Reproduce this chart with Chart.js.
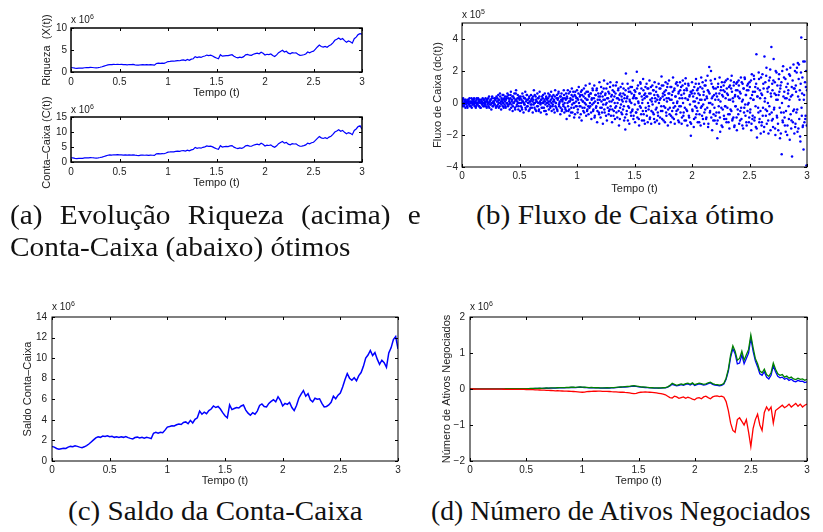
<!DOCTYPE html>
<html><head><meta charset="utf-8">
<script src="https://cdn.jsdelivr.net/npm/chart.js@4.4.1/dist/chart.umd.min.js"></script>
<style>
html,body{margin:0;padding:0;background:#fff}
body{position:relative;width:823px;height:532px;overflow:hidden}
canvas{position:absolute}
.ex{position:absolute;font:10px "Liberation Sans",Arial,sans-serif;color:#222;white-space:nowrap;line-height:10px}
.ex span{font-size:7px;position:relative;top:-4px}
.cap{position:absolute;font-family:"Liberation Serif","Times New Roman",Times,serif;font-size:27px;line-height:27px;color:#111;white-space:nowrap;transform-origin:0 0}
</style></head><body>
<script>
// ---------- DATA ----------
const T_MAX = 3;
// (a) top: Riqueza X(t), x 10^6
const wealth = [
1.01,0.97,0.88,0.83,0.86,0.89,0.88,0.97,1.02,0.99,
1.07,1.02,0.97,0.94,0.99,1.08,1.19,1.33,1.48,1.62,
1.69,1.66,1.74,1.71,1.76,1.70,1.73,1.66,1.69,1.64,
1.70,1.66,1.71,1.63,1.58,1.55,1.64,1.67,1.62,1.66,
1.60,1.66,1.62,1.57,1.94,2.00,1.94,2.02,1.98,2.16,
2.38,2.41,2.46,2.45,2.53,2.59,2.56,2.70,2.74,2.61,
2.84,2.66,2.92,3.02,3.49,3.28,3.42,3.31,3.53,3.64,
3.85,3.74,3.82,3.64,3.38,3.17,3.02,3.92,3.60,3.67,
3.74,3.71,3.85,3.92,3.56,3.35,3.20,3.38,3.28,3.49,
3.89,4.00,3.82,3.78,4.03,4.18,4.28,4.14,4.50,4.25,
3.85,4.03,3.96,4.10,3.74,3.53,3.89,4.39,4.68,4.93,
4.54,4.72,4.28,4.14,4.39,4.32,4.36,4.03,3.78,3.82,
3.92,4.10,4.54,4.36,4.61,4.75,5.18,5.69,6.12,5.80,
5.65,5.83,5.62,5.98,6.19,6.62,7.20,7.42,7.74,7.38,
7.60,7.13,6.77,7.06,6.88,6.55,7.56,7.92,8.50,8.71,
8.60];
// (a) bottom and (c): Conta-Caixa C(t), x 10^6
const cash = [
1.40,1.35,1.22,1.15,1.20,1.24,1.22,1.35,1.42,1.38,
1.48,1.42,1.35,1.30,1.38,1.50,1.65,1.85,2.05,2.25,
2.35,2.30,2.42,2.38,2.45,2.36,2.40,2.30,2.35,2.28,
2.36,2.30,2.38,2.27,2.20,2.15,2.28,2.32,2.25,2.30,
2.22,2.30,2.25,2.18,2.70,2.78,2.70,2.80,2.75,3.00,
3.30,3.35,3.42,3.40,3.52,3.60,3.55,3.75,3.80,3.62,
3.95,3.70,4.05,4.20,4.85,4.55,4.75,4.60,4.90,5.05,
5.35,5.20,5.30,5.05,4.70,4.40,4.20,5.45,5.00,5.10,
5.20,5.15,5.35,5.45,4.95,4.65,4.45,4.70,4.55,4.85,
5.40,5.55,5.30,5.25,5.60,5.80,5.95,5.75,6.25,5.90,
5.35,5.60,5.50,5.70,5.20,4.90,5.40,6.10,6.50,6.85,
6.30,6.55,5.95,5.75,6.10,6.00,6.05,5.60,5.25,5.30,
5.45,5.70,6.30,6.05,6.40,6.60,7.20,7.90,8.50,8.05,
7.85,8.10,7.80,8.30,8.60,9.20,10.00,10.30,10.75,10.25,
10.55,9.90,9.40,9.80,9.55,9.10,10.50,11.00,11.80,12.10,
10.90];
// (b) Fluxo de Caixa dc(t), x 10^5 — samples at t = 0, 0.005, ..., 3
const flow = [
0.1,-0.2,0.3,0.0,-0.1,0.2,-0.3,0.1,0.0,-0.2,0.2,0.1,-0.1,0.3,-0.2,0.0,0.1,-0.3,0.2,-0.1,
0.0,0.3,-0.2,0.1,-0.3,0.2,0.0,-0.1,0.3,0.1,-0.2,0.2,-0.3,0.0,0.1,-0.1,0.3,-0.2,0.2,0.0,
-0.1,0.3,0.1,-0.3,0.2,0.0,-0.2,0.4,0.1,-0.1,0.2,-0.4,0.3,0.0,-0.2,0.1,0.3,-0.1,0.2,-0.3,
0.4,-0.2,0.1,0.5,-0.3,0.2,0.6,0.0,-0.4,0.3,0.1,-0.2,0.5,0.2,-0.1,0.4,-0.3,0.3,0.0,0.6,
-0.2,0.5,0.1,-0.4,0.3,0.7,-0.1,0.2,-0.5,0.4,0.0,0.6,-0.3,0.2,0.8,-0.2,0.1,0.5,-0.4,0.3,
0.2,-0.5,0.4,0.0,-0.3,0.6,0.1,-0.6,0.3,-0.1,0.7,-0.4,0.2,0.5,-0.2,0.0,-0.5,0.4,0.1,-0.3,
0.5,-0.1,0.3,-0.6,0.2,0.8,-0.3,0.0,0.4,-0.5,0.1,0.6,-0.2,0.3,-0.4,0.7,0.0,-0.6,0.2,0.4,
-0.3,0.5,0.1,-0.5,0.6,-0.1,0.3,-0.7,0.2,0.0,0.6,-0.4,0.4,0.1,-0.2,0.7,-0.5,0.3,-0.1,0.5,
0.2,-0.6,0.8,0.0,-0.3,0.5,-0.5,0.3,0.7,-0.2,0.1,-0.7,0.4,0.6,-0.4,0.2,-0.1,0.8,-0.6,0.3,
-0.4,0.6,-1.0,0.3,0.8,-0.5,0.1,-0.8,0.7,0.2,-0.3,0.9,-0.6,0.4,0.0,-0.9,0.5,0.7,-0.2,0.3,
0.8,-0.6,0.2,1.0,-0.9,0.4,-0.2,0.7,-1.1,0.5,0.1,-0.5,0.9,-0.3,0.6,1.1,-0.8,0.2,-0.4,0.7,
-0.7,0.4,1.2,-0.2,0.6,-1.0,0.3,0.9,-0.5,0.0,1.1,-0.8,0.5,-0.3,0.8,-1.2,0.2,0.6,-0.6,1.3,
0.4,-0.9,1.0,-0.3,0.7,-1.3,0.2,1.4,-0.6,0.5,-0.1,0.9,-1.1,1.2,0.3,-0.7,0.6,-0.4,1.3,-0.8,
0.1,-1.2,0.8,1.1,-0.5,0.4,-1.0,0.6,-0.2,1.3,-0.9,0.3,0.9,-1.4,0.5,-0.3,1.0,-0.6,0.2,1.2,
-0.4,0.9,-1.1,0.5,-1.65,1.85,-0.7,0.3,1.2,-0.2,0.7,-1.3,0.1,1.0,-0.8,0.6,-0.5,1.4,-1.0,0.4,
0.8,-1.2,0.3,-0.6,1.95,-0.9,1.1,0.0,-1.4,0.6,1.3,-0.3,0.9,-1.1,0.2,1.5,-0.7,0.5,-1.3,1.0,
-0.5,1.2,0.4,-1.2,0.9,-0.2,1.4,-0.9,0.6,-1.3,0.1,1.1,-0.6,0.8,-1.0,1.3,0.3,-0.4,1.0,-1.1,
0.5,-0.8,1.2,-1.3,0.2,0.9,-0.5,1.65,-1.0,0.4,1.1,-0.2,0.7,-1.2,1.3,-0.6,0.3,1.0,-1.4,0.6,
1.4,-0.7,0.2,-1.2,1.0,0.5,-0.9,1.6,-0.3,0.8,-1.3,0.4,1.2,-0.5,0.0,1.1,-1.1,0.7,-0.2,1.3,
-0.6,1.0,-1.3,0.3,1.4,-0.8,0.6,-1.1,1.2,1.55,-0.4,0.8,-1.4,0.2,1.1,-0.9,0.5,-1.2,-2.05,0.7,
1.3,-0.5,0.4,-1.5,1.0,0.1,-0.9,1.5,-0.3,0.8,-1.2,0.6,1.2,-0.7,0.2,-1.4,1.6,-0.2,0.9,-1.0,
0.5,-1.3,1.1,-0.4,1.4,-0.9,0.3,1.7,-1.5,0.7,2.25,-0.6,0.0,2.0,1.2,-1.7,0.4,-1.1,0.9,-0.3,
1.5,-0.8,0.6,-1.3,-2.2,1.0,0.2,-0.6,1.6,-1.8,0.8,-0.3,1.3,-1.5,0.4,1.1,-1.0,0.7,-0.2,1.4,
-1.2,0.6,1.5,-0.7,0.2,-1.6,1.1,-0.4,0.9,1.7,-1.1,0.3,-0.9,1.3,-1.4,0.5,-0.2,1.2,-1.7,0.8,
0.4,1.4,-1.3,0.7,-0.5,1.6,-1.0,0.1,1.2,-1.6,0.9,-0.3,1.5,-0.8,0.5,-1.4,1.1,-0.1,0.8,-1.2,
1.3,-0.6,0.3,-1.7,1.8,-1.0,0.7,0.2,1.5,-0.9,1.0,-1.5,3.05,-2.15,0.4,-0.3,1.9,-1.2,0.8,-0.5,
1.6,-1.4,0.5,-0.8,1.2,-1.8,2.9,0.3,-0.4,1.7,-1.3,0.9,0.0,-1.9,1.4,-0.7,2.1,0.6,3.5,-1.1,
0.8,-1.5,2.75,-0.3,1.3,-2.0,0.5,1.9,-0.9,0.2,-1.7,1.5,0.7,-2.2,1.1,-0.6,-3.2,2.0,-1.2,0.4,
1.6,-0.9,0.3,-1.8,1.0,2.1,-1.4,0.6,-0.2,1.8,-2.3,2.2,0.4,-1.1,-3.35,1.4,-0.5,0.9,-1.9,2.0,
-1.3,0.7,1.9,-0.4,2.5,-1.6,2.4,0.2,-2.1,1.2,4.1,-0.8,1.6,-1.4,-2.9,0.5,2.6,-1.0,1.0,-3.9,
0.8];
// (b) second set of samples, at t = 0.0025, 0.0075, ..., 2.9975
const flowMid = [
-0.1,0.2,0.0,-0.2,0.1,0.0,0.2,-0.1,0.1,-0.3,0.0,0.2,-0.1,0.1,0.0,-0.2,0.3,0.0,-0.1,0.1,
0.2,-0.1,0.0,0.1,-0.2,0.3,-0.1,0.0,0.2,-0.2,0.1,0.0,-0.3,0.2,0.1,-0.1,0.0,0.2,-0.2,0.1,
0.0,-0.2,0.2,0.1,-0.1,0.3,0.0,-0.3,0.1,0.2,-0.1,0.0,0.4,-0.2,0.1,0.0,-0.1,0.2,0.3,-0.2,
0.1,0.3,-0.1,0.2,0.0,-0.2,0.4,0.1,-0.1,0.2,0.5,0.0,-0.3,0.3,0.1,-0.2,0.2,0.0,0.4,-0.1,
0.3,-0.1,0.2,0.0,0.5,-0.3,0.1,0.4,-0.2,0.0,0.3,0.1,-0.4,0.6,0.2,-0.1,0.3,0.0,-0.2,0.4,
0.0,0.3,-0.2,0.2,-0.4,0.1,0.4,0.0,-0.1,0.3,-0.3,0.1,0.5,-0.2,0.2,0.0,0.3,-0.4,0.1,-0.1,
0.2,-0.3,0.1,0.4,-0.1,0.0,0.5,-0.4,0.2,0.1,-0.2,0.3,0.0,-0.5,0.4,0.1,-0.1,0.2,-0.3,0.0,
0.3,0.0,-0.3,0.2,0.1,-0.5,0.4,0.0,-0.2,0.3,0.1,-0.1,0.5,-0.3,0.2,0.0,0.4,-0.2,0.1,-0.4,
0.1,0.4,-0.2,0.0,0.3,-0.4,0.2,0.6,-0.1,0.0,0.4,-0.3,0.2,-0.5,0.1,0.3,-0.2,0.5,0.0,-0.3,
0.2,-0.5,0.4,0.0,-0.2,0.6,-0.4,0.1,0.3,-0.6,0.5,-0.1,0.2,0.7,-0.3,0.0,-0.7,0.4,0.1,-0.2,
0.3,-0.4,0.6,0.0,-0.2,0.5,-0.7,0.2,0.8,-0.3,0.1,0.4,-0.6,0.0,0.3,-0.1,0.7,-0.5,0.2,-0.2,
0.5,-0.3,0.0,0.6,-0.6,0.2,-0.1,0.8,-0.4,0.3,-0.9,0.1,0.5,-0.2,0.9,-0.5,0.0,0.4,-0.7,0.2,
-0.3,0.6,0.1,-0.6,0.4,-0.1,0.9,-0.4,0.2,0.6,-0.8,0.0,0.3,-0.3,0.7,-0.5,0.1,1.0,-0.2,0.4,
0.5,-0.4,0.2,-0.8,0.7,0.0,-0.3,1.1,-0.6,0.3,0.0,0.8,-0.5,0.2,-1.0,0.6,-0.1,0.4,-0.7,0.1,
0.6,-0.2,0.3,-0.9,0.8,0.1,-0.5,0.4,-1.1,0.9,-0.3,0.2,0.7,-0.6,0.0,1.0,-0.4,0.3,-0.8,0.5,
-0.1,0.7,-0.6,0.3,0.9,-0.4,0.1,-1.0,0.6,-0.2,1.2,-0.7,0.4,0.0,-0.5,0.8,-1.1,0.3,0.6,-0.3,
0.4,-0.8,0.9,0.0,-0.4,0.6,-1.0,0.2,1.0,-0.5,0.3,-0.1,0.8,-0.7,0.5,-1.2,0.1,0.7,-0.3,0.2,
-0.6,0.4,0.0,0.9,-0.9,0.3,-0.2,1.1,-0.5,0.6,-1.1,0.2,0.5,-0.3,0.8,-0.8,0.1,1.2,-0.4,0.3,
0.6,-0.3,1.0,-0.8,0.2,-0.5,0.7,0.0,-1.0,0.9,-0.2,0.4,-0.7,1.3,0.1,-0.4,0.6,-1.2,0.3,0.8,
-0.2,0.5,-0.9,1.1,0.0,-0.6,0.8,-0.3,0.3,-1.1,0.9,-0.5,0.2,1.2,-0.8,0.4,-0.1,0.7,-1.3,0.6,
-0.4,0.8,0.1,-1.0,0.6,-0.2,1.2,-0.7,0.3,-0.5,0.9,0.0,-1.2,0.5,1.0,-0.3,0.2,-0.8,1.3,-0.1,
0.7,-0.6,0.2,1.1,-1.0,0.4,-0.3,0.8,-1.3,0.0,0.6,-0.5,1.4,-0.9,0.3,-0.1,1.0,-0.7,0.5,-1.1,
0.2,0.9,-0.6,0.4,-1.1,1.2,-0.2,0.6,-0.9,0.1,1.0,-1.4,0.5,-0.4,0.8,-0.8,1.3,-0.2,0.3,-1.0,
0.9,-0.3,0.5,-1.2,1.0,-0.7,0.2,1.4,-0.5,0.7,-1.0,0.1,1.1,-1.5,0.4,-0.2,0.8,-0.9,1.3,-0.4,
-0.7,1.1,0.3,-1.1,0.6,-0.3,1.3,-1.4,0.2,0.9,-0.6,1.6,-0.1,0.5,-1.2,0.8,-0.5,1.2,0.0,-0.9,
1.0,-0.4,1.4,-1.3,0.5,-0.8,0.2,1.7,-1.1,0.7,-0.2,1.2,-1.6,0.4,0.9,-0.6,1.5,-1.0,0.3,-1.9,
0.6,-1.2,1.8,-0.3,0.9,-1.5,0.1,1.3,-0.8,2.2,-0.5,0.7,-1.1,1.0,-0.2,1.6,-1.7,0.4,-0.6,1.2,
-1.0,1.4,-0.4,0.6,-1.6,2.0,0.2,-0.8,1.1,-1.3,0.5,1.8,-0.3,0.9,-1.9,1.3,0.0,-1.1,2.3,-0.6,
0.7,-1.4,1.5,-0.5,0.3,-2.0,1.2,0.8,-1.0,0.2,1.7,-0.7,-1.6,1.0,0.5,-1.2,2.4,-0.4,0.9,-1.5,
1.1,-0.6,2.2,-1.8,0.4,1.5,-1.0,0.8,-2.4,1.9,-0.3,0.6,-1.5,2.6,0.2,-1.2,1.3,-0.8,2.0,-1.4];
// (d) Número de Ativos Negociados, x 10^6
const assetsBlue = [
0,0,0,0.001,0.001,0.001,0.002,0.002,0.002,0.003,
0.003,0.003,0.004,0.004,0.005,0.005,0.006,0.006,0.007,0.007,
0.008,0.008,0.009,0.009,0.01,0.01,0.01,0.012,0.011,0.014,
0.016,0.017,0.015,0.02,0.022,0.021,0.025,0.027,0.025,0.03,
0.032,0.03,0.034,0.038,0.036,0.042,0.044,0.04,0.045,0.048,
0.044,0.042,0.038,0.034,0.036,0.032,0.03,0.03,0.027,0.025,
0.028,0.03,0.028,0.032,0.034,0.038,0.043,0.048,0.052,0.056,
0.06,0.065,0.072,0.078,0.07,0.06,0.05,0.046,0.042,0.038,
0.034,0.03,0.026,0.027,0.024,0.026,0.03,0.034,0.05,0.085,
0.13,0.11,0.085,0.1,0.12,0.1,0.13,0.14,0.11,0.15,
0.1,0.12,0.14,0.13,0.11,0.12,0.15,0.17,0.13,0.11,
0.1,0.09,0.1,0.14,0.27,0.5,0.88,1.12,0.98,0.7,
0.72,0.95,0.7,0.85,1.0,1.42,1.05,0.78,0.62,0.42,
0.38,0.48,0.33,0.28,0.38,0.64,0.48,0.35,0.31,0.33,
0.27,0.3,0.24,0.27,0.22,0.2,0.24,0.21,0.22,0.18,
0.2];
const assetsGreen = [
0,0,0,0.001,0.001,0.002,0.002,0.002,0.003,0.003,
0.004,0.004,0.005,0.005,0.006,0.006,0.007,0.007,0.008,0.008,
0.009,0.009,0.01,0.01,0.011,0.011,0.012,0.015,0.014,0.018,
0.02,0.022,0.02,0.025,0.028,0.026,0.03,0.033,0.03,0.035,
0.038,0.036,0.04,0.045,0.042,0.048,0.05,0.046,0.052,0.055,
0.05,0.048,0.045,0.04,0.042,0.038,0.035,0.036,0.032,0.03,
0.034,0.036,0.033,0.038,0.04,0.045,0.05,0.055,0.06,0.065,
0.07,0.075,0.085,0.09,0.08,0.07,0.06,0.055,0.05,0.045,
0.04,0.035,0.03,0.032,0.028,0.03,0.035,0.04,0.06,0.1,
0.16,0.13,0.1,0.12,0.14,0.12,0.15,0.16,0.13,0.17,
0.12,0.14,0.16,0.15,0.13,0.14,0.17,0.19,0.15,0.13,
0.12,0.11,0.12,0.16,0.30,0.55,0.95,1.20,1.05,0.80,
0.85,1.05,0.80,0.95,1.10,1.50,1.15,0.85,0.70,0.50,
0.45,0.55,0.40,0.35,0.45,0.72,0.55,0.42,0.38,0.40,
0.33,0.36,0.30,0.33,0.28,0.26,0.30,0.27,0.28,0.24,
0.27];
const assetsRed = [
0,0,0,-0.001,-0.001,-0.002,-0.002,-0.003,-0.003,-0.004,
-0.004,-0.005,-0.005,-0.006,-0.006,-0.007,-0.008,-0.008,-0.009,-0.01,
-0.01,-0.011,-0.012,-0.012,-0.013,-0.014,-0.015,-0.018,-0.02,-0.022,
-0.025,-0.028,-0.03,-0.033,-0.036,-0.04,-0.042,-0.045,-0.05,-0.048,
-0.052,-0.055,-0.06,-0.058,-0.062,-0.065,-0.07,-0.075,-0.08,-0.085,
-0.09,-0.085,-0.075,-0.07,-0.065,-0.06,-0.062,-0.058,-0.06,-0.065,
-0.068,-0.064,-0.07,-0.075,-0.078,-0.08,-0.085,-0.09,-0.088,-0.095,
-0.1,-0.11,-0.12,-0.13,-0.12,-0.1,-0.09,-0.085,-0.08,-0.085,
-0.09,-0.095,-0.1,-0.11,-0.12,-0.13,-0.14,-0.16,-0.2,-0.24,
-0.25,-0.2,-0.22,-0.26,-0.24,-0.22,-0.26,-0.23,-0.25,-0.28,
-0.3,-0.25,-0.24,-0.27,-0.22,-0.2,-0.24,-0.27,-0.22,-0.2,
-0.19,-0.21,-0.2,-0.23,-0.35,-0.6,-0.95,-1.15,-1.2,-0.85,
-0.8,-0.9,-1.0,-0.85,-1.2,-1.6,-1.1,-0.85,-0.7,-1.0,
-1.15,-0.65,-0.5,-0.6,-0.5,-0.95,-0.6,-0.55,-0.5,-0.45,
-0.52,-0.48,-0.42,-0.5,-0.45,-0.4,-0.48,-0.42,-0.5,-0.45,
-0.42];

// ---------- RENDERING ----------
const FF = '"Liberation Sans", Arial, sans-serif';
const INK = '#222';
function fmt(v){ return v < 0 ? '\u2212' + String(-v) : String(v); }
function series(arr){ const n = arr.length; return arr.map((v,i)=>({x: T_MAX*i/(n-1), y: v})); }
function midSeries(arr){ const n = arr.length; return arr.map((v,i)=>({x: T_MAX*(i+0.5)/n, y: v})); }

const frame = {
  id:'frame',
  afterDraw(chart, args, o){
    const {ctx, chartArea:a, scales:{x,y}} = chart;
    ctx.save();
    ctx.fillStyle = INK;
    ctx.font = '11px ' + FF;
    ctx.textAlign = 'center'; ctx.textBaseline = 'middle';
    ctx.translate(y.left + 6.6, (a.top + a.bottom)/2 + (o.dy||0));
    ctx.rotate(-Math.PI/2);
    ctx.fillText(o.title, 0, 0);
    ctx.setTransform(1,0,0,1,0,0);
    ctx.strokeStyle = '#000';
    ctx.lineWidth = 1;
    const L = 3;
    ctx.beginPath();
    x.ticks.forEach(t=>{ const p = Math.round(x.getPixelForValue(t.value))+0.5;
      ctx.moveTo(p,a.bottom); ctx.lineTo(p,a.bottom-L); ctx.moveTo(p,a.top); ctx.lineTo(p,a.top+L); });
    y.ticks.forEach(t=>{ const p = Math.round(y.getPixelForValue(t.value))+0.5;
      ctx.moveTo(a.left,p); ctx.lineTo(a.left+L,p); ctx.moveTo(a.right,p); ctx.lineTo(a.right-L,p); });
    ctx.stroke();
    ctx.lineWidth = o.lw || 1;
    ctx.strokeRect(a.left, a.top, a.right-a.left, a.bottom-a.top);
    ctx.restore();
  }
};

function panel(box, m, yOpt, datasets, yTitle, frameW, dy){
  const cv = document.createElement('canvas');
  const W = box.r-box.l+m.l+m.r, H = box.b-box.t+m.t+m.b;
  cv.width = W; cv.height = H;
  cv.style.left = (box.l-m.l)+'px'; cv.style.top = (box.t-m.t)+'px';
  cv.style.width = W+'px'; cv.style.height = H+'px';
  document.body.appendChild(cv);
  return new Chart(cv, {
    type:'line',
    data:{datasets},
    options:{
      responsive:false, animation:false, devicePixelRatio:1,
      layout:{padding:{left:0,top:m.t,right:m.r,bottom:0}},
      plugins:{legend:{display:false}, tooltip:{enabled:false}, frame:{lw:frameW, title:yTitle, dy:dy||0}},
      elements:{point:{radius:0}, line:{tension:0}},
      scales:{
        x:{type:'linear', min:0, max:T_MAX, grid:{display:false,drawTicks:false}, border:{display:false},
           ticks:{stepSize:0.5, padding:m.xp, color:INK, font:{family:FF,size:10}, maxRotation:0, autoSkip:false, callback:fmt},
           title:{display:true, text:'Tempo (t)', color:INK, font:{family:FF,size:11}, padding:0},
           afterFit(s){ s.height = m.b; }},
        y:{type:'linear', min:yOpt.min, max:yOpt.max, grid:{display:false,drawTicks:false}, border:{display:false},
           ticks:{stepSize:yOpt.step, includeBounds:false, padding:m.yp, color:INK, font:{family:FF,size:10}, autoSkip:false, callback:fmt},
           title:{display:false},
           afterFit(s){ s.width = m.l; }}
      }
    },
    plugins:[frame]
  });
}
function line(arr, color, w){ return {data:series(arr), borderColor:color, borderWidth:w, pointRadius:0, fill:false}; }
function dots(data){ return {data, showLine:false, pointRadius:1.25, pointBorderWidth:0, pointBackgroundColor:'#0000ff', borderColor:'#0000ff'}; }

// (a) top
panel({l:71,t:28,r:362,b:72}, {l:31,t:22,r:8,b:28,xp:4,yp:4}, {min:0,max:10,step:5},
  [line(wealth,'#0000ff',1.2)], 'Riqueza  (X(t))', 1.5, 0);
// (a) bottom
panel({l:71,t:117,r:362,b:162}, {l:31,t:30,r:8,b:28,xp:4,yp:4}, {min:0,max:15,step:5},
  [line(cash,'#0000ff',1.2)], 'Conta\u2013Caixa (C(t))', 1.5, 3);
// (b)
panel({l:462,t:23,r:807,b:167}, {l:31,t:10,r:10,b:29,xp:3,yp:4}, {min:-4,max:5,step:2},
  [dots(series(flow)), dots(midSeries(flowMid))], 'Fluxo de Caixa (dc(t))', 1, 0);
// (c)
panel({l:52,t:316,r:398,b:461}, {l:31,t:10,r:10,b:27,xp:3,yp:5}, {min:0,max:14,step:2},
  [line(cash,'#0000ff',1.5)], 'Saldo Conta\u2013Caixa', 1, 0);
// (d)
panel({l:470,t:316,r:807,b:461}, {l:30,t:10,r:10,b:27,xp:3,yp:5}, {min:-2,max:2,step:1},
  [line(assetsRed,'#ff0000',1.3), line(assetsGreen,'#008000',1.3), line(assetsBlue,'#0000ff',1.3)],
  'N\u00famero de Ativos Negociados', 1, 0);

// exponent labels
[[71,15,'6'],[71,105,'6'],[462,10,'5'],[52,302,'6'],[470,302,'6']].forEach(([x,y,e])=>{
  const d = document.createElement('div'); d.className='ex';
  d.style.left = x+'px'; d.style.top = y+'px';
  d.innerHTML = 'x 10<span>'+e+'</span>';
  document.body.appendChild(d);
});

// captions
const caps = [
  {text:'(a) Evolução Riqueza (acima) e', x:10, y:202, w:411, justify:true},
  {text:'Conta-Caixa (abaixo) ótimos', x:10, y:234, w:340},
  {text:'(b) Fluxo de Caixa ótimo', x:476, y:202, w:298},
  {text:'(c) Saldo da Conta-Caixa', x:68, y:498, w:295},
  {text:'(d) Número de Ativos Negociados', x:431, y:498, w:379}
];
const els = caps.map(c=>{
  const d = document.createElement('div'); d.className='cap';
  d.textContent = c.text; d.style.left = c.x+'px'; d.style.top = c.y+'px';
  document.body.appendChild(d); return d;
});
function fitCaps(){
  els.forEach(el=>{ el.style.wordSpacing = '0px'; });
  const sRef = caps[1].w / els[1].offsetWidth;
  caps.forEach((c,i)=>{
    const el = els[i];
    const nat = el.offsetWidth;
    if (c.justify){
      const spaces = c.text.split(' ').length-1;
      el.style.wordSpacing = ((c.w/sRef - nat)/spaces)+'px';
      el.style.transform = 'scaleX('+sRef+')';
    } else {
      el.style.transform = 'scaleX('+(c.w/nat)+')';
    }
  });
}
fitCaps();
if (document.fonts && document.fonts.ready) document.fonts.ready.then(fitCaps);
</script>
</body></html>
